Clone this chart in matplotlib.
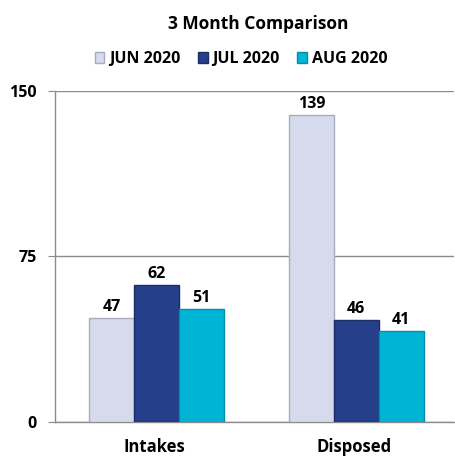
import numpy as np
import matplotlib as mpl
import matplotlib.pyplot as plt

mpl.rcParams.update({
    "font.family": ["Open Sans", "DejaVu Sans"],
    "font.weight": "bold",
    "font.size": 11.5,
})

categories = ["Intakes", "Disposed"]
series = ["JUN 2020", "JUL 2020", "AUG 2020"]
jun = [47, 139]
jul = [62, 46]
aug = [51, 41]
yticks = [0, 75, 150]

colors = ["#D5DAEC", "#263F8A", "#00B4D6"]
edges = ["#A8ADBD", "#1A2D66", "#0090AC"]

fig = plt.figure(figsize=(4.55, 4.58), dpi=100)
ax = fig.add_axes([0.121, 0.079, 0.877, 0.722])

x = np.arange(len(categories))
w = 0.225
for i, (name, vals) in enumerate(zip(series, [jun, jul, aug])):
    pos = x + (i - 1) * w + 0.01
    bars = ax.bar(pos, vals, w, color=colors[i], edgecolor=edges[i],
                  linewidth=1.0, label=name, zorder=3)
    for b, v in zip(bars, vals):
        ax.text(b.get_x() + b.get_width() / 2, v + 1.5, str(v), ha="center",
                va="bottom", fontsize=11.5, fontweight="bold", color="black")

ax.set_xlim(-0.5, 1.5)
ax.set_ylim(0, 150)
ax.set_yticks(yticks)
ax.set_yticklabels([str(t) for t in yticks], fontsize=11.5, fontweight="bold")
ax.set_xticks(x)
ax.set_xticklabels(categories, fontsize=12, fontweight="bold")
ax.tick_params(axis="x", length=0, pad=12)
ax.tick_params(axis="y", length=5, color="#8C8C8C", pad=8)
ax.yaxis.grid(True, color="#8C8C8C", linewidth=1.0, zorder=0)
for s in ["top", "right"]:
    ax.spines[s].set_visible(False)
for s in ["left", "bottom"]:
    ax.spines[s].set_color("#8C8C8C")
    ax.spines[s].set_linewidth(1.0)

fig.text(0.567, 0.948, "3 Month Comparison", ha="center", va="center",
         fontsize=12.5, fontweight="bold")
fig.legend(loc="center", bbox_to_anchor=(0.53, 0.871), ncol=3, frameon=False,
           fontsize=11.5, handlelength=0.6, handleheight=0.6, handletextpad=0.3,
           columnspacing=1.1)

fig.savefig("out.png", dpi=100)
